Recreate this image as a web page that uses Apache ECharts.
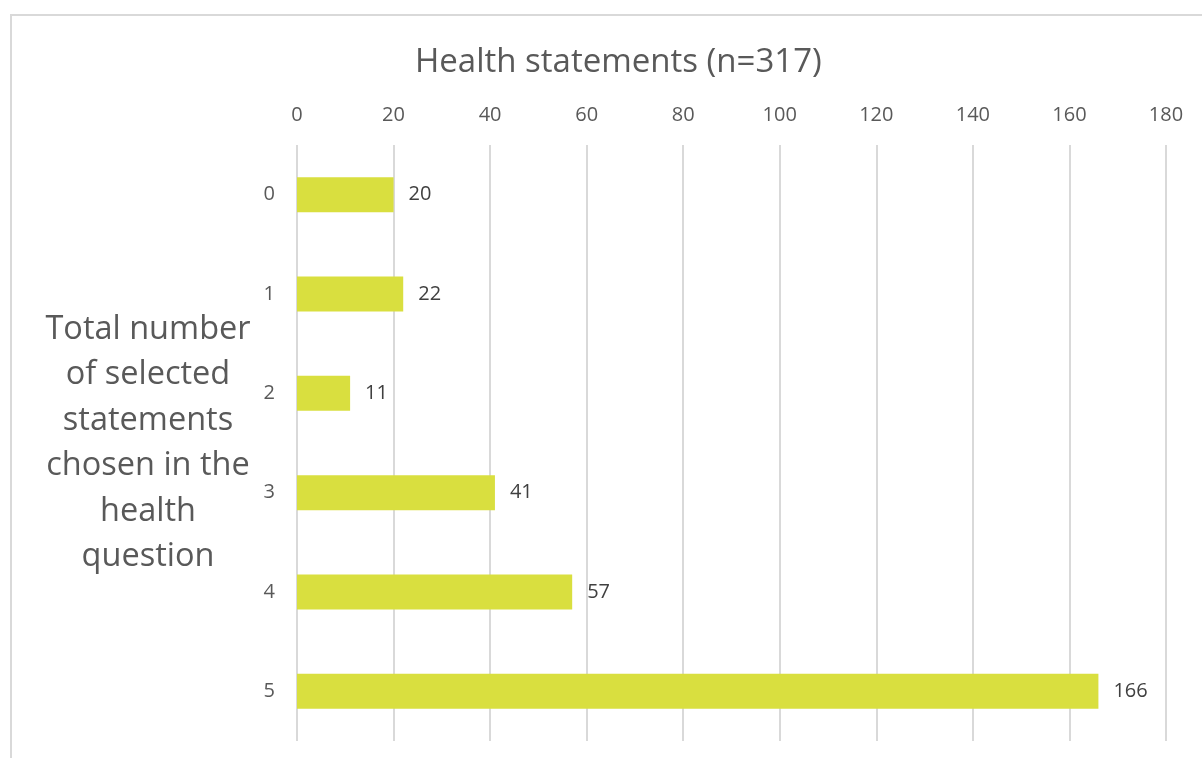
<!DOCTYPE html>
<html>
<head>
<meta charset="utf-8">
<script src="https://cdn.jsdelivr.net/npm/echarts@6/dist/echarts.min.js"></script>
<style>
  html, body { margin: 0; padding: 0; background: #fff; }
  #frame {
    position: absolute; left: 10px; top: 14px; width: 1300px; height: 900px;
    border-left: 2px solid #d9d9d9; border-top: 2px solid #d9d9d9;
  }
  #chart-container { position: absolute; left: 0; top: 0; width: 1202px; height: 758px; }
</style>
</head>
<body>
<div id="frame"></div>
<div id="chart-container"></div>
<script>
var categories = ['0', '1', '2', '3', '4', '5'];
var counts = [20, 22, 11, 41, 57, 166];
var xTicks = { min: 0, max: 180, interval: 20 };

var font = '"Open Sans", "Noto Sans", sans-serif';

var myChart = echarts.init(document.getElementById('chart-container'));

var option = {
  backgroundColor: 'transparent',
  animation: false,
  title: {
    text: 'Health statements (n=317)',
    left: 410,
    top: 41,
    textStyle: { fontFamily: font, fontSize: 33, fontWeight: 'normal', color: '#595959' }
  },
  grid: { left: 297, right: 36, top: 145, bottom: 17 },
  xAxis: {
    type: 'value',
    position: 'top',
    min: xTicks.min,
    max: xTicks.max,
    interval: xTicks.interval,
    axisLine: { show: false },
    axisTick: { show: false },
    axisLabel: { margin: 20, fontFamily: font, fontSize: 20, color: '#595959' },
    splitLine: { lineStyle: { color: '#d9d9d9', width: 2 } }
  },
  yAxis: {
    type: 'category',
    inverse: true,
    data: categories,
    axisLine: { show: false },
    axisTick: { show: false },
    axisLabel: { margin: 22, fontFamily: font, fontSize: 20, color: '#595959' },
    name: 'Total number\nof selected\nstatements\nchosen in the\nhealth\nquestion',
    nameLocation: 'middle',
    nameRotate: 0,
    nameGap: 149,
    nameTextStyle: {
      fontFamily: font, fontSize: 32.5, color: '#595959',
      align: 'center', verticalAlign: 'middle', lineHeight: 45.5
    }
  },
  series: [{
    type: 'bar',
    data: counts,
    barWidth: 35,
    itemStyle: { color: '#d9df3f' },
    label: {
      show: true,
      position: 'right',
      distance: 15,
      fontFamily: font,
      fontSize: 20,
      color: '#404040'
    }
  }]
};

myChart.setOption(option);
</script>
</body>
</html>
